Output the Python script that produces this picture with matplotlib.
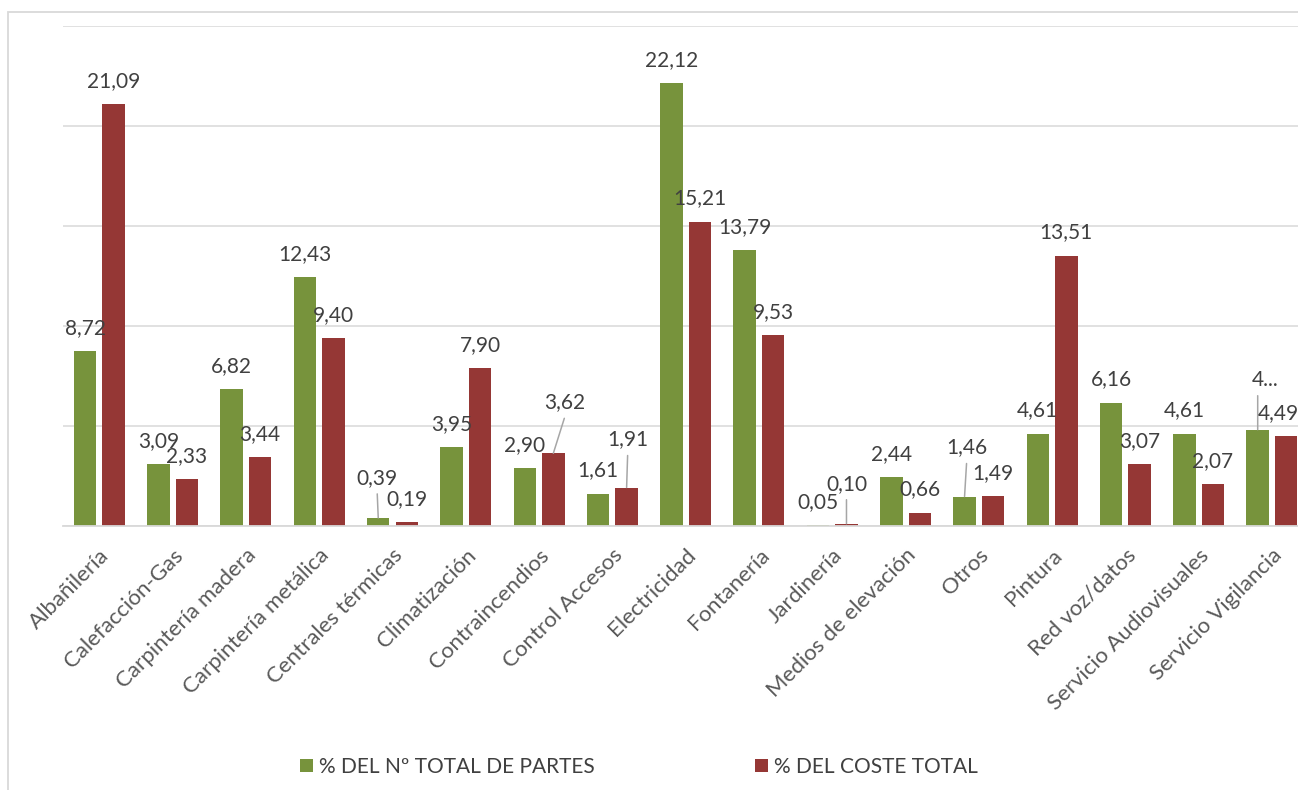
import numpy as np
import matplotlib.pyplot as plt
from matplotlib.patches import Rectangle

plt.rcParams['font.family'] = ['Lato', 'DejaVu Sans']

# --- data ---
categorias = ['Albañilería', 'Calefacción-Gas', 'Carpintería madera', 'Carpintería metálica',
              'Centrales térmicas', 'Climatización', 'Contraincendios', 'Control Accesos',
              'Electricidad', 'Fontanería', 'Jardinería', 'Medios de elevación', 'Otros',
              'Pintura', 'Red voz/datos', 'Servicio Audiovisuales', 'Servicio Vigilancia']
partes = [8.72, 3.09, 6.82, 12.43, 0.39, 3.95, 2.90, 1.61, 22.12, 13.79, 0.05, 2.44,
          1.46, 4.61, 6.16, 4.61, 4.80]
coste = [21.09, 2.33, 3.44, 9.40, 0.19, 7.90, 3.62, 1.91, 15.21, 9.53, 0.10, 0.66,
         1.49, 13.51, 3.07, 2.07, 4.49]
serie_partes = '% DEL Nº TOTAL DE PARTES'
serie_coste = '% DEL COSTE TOTAL'

def fmt(v):
    return f'{v:.2f}'.replace('.', ',')

etiq_partes = [fmt(v) for v in partes]
etiq_partes[16] = '4...'   # truncated in the original
etiq_coste = [fmt(v) for v in coste]

verde = '#77933C'
rojo = '#953735'
texto = '#404040'
gris = '#d9d9d9'

# label offsets in pixels (dx, dy above bar top); default is (0, 25)
desp_partes = {4: (-1, 42), 12: (2, 51), 16: (7, 52)}
desp_coste = {6: (11, 53), 7: (1, 50), 10: (0, 42), 16: (-8, 25)}
# leader lines: x offset of the line start
guia_partes = {4: -1, 12: 2, 16: 0}
guia_coste = {6: 11, 7: 1, 10: 0}

W, H = 1298, 790
fig = plt.figure(figsize=(W / 100, H / 100), dpi=100)
ax = fig.add_axes([62.7 / W, (H - 525.7) / H, (1308.6 - 62.7) / W, 500 / H])

x = np.arange(len(categorias))
ancho = 0.307
sep = 0.1945
b1 = ax.bar(x - sep, partes, ancho, color=verde, label=serie_partes, zorder=3)
b2 = ax.bar(x + sep, coste, ancho, color=rojo, label=serie_coste, zorder=3)

ax.set_xlim(-0.5, len(categorias) - 0.5)
ax.set_ylim(0, 25)
ax.set_yticks(np.arange(0, 26, 5))
ax.set_yticklabels([])
ax.tick_params(axis='y', length=0)
ax.grid(axis='y', color=gris, linewidth=1.1, zorder=0)
for s in ['top', 'right', 'left']:
    ax.spines[s].set_visible(False)
ax.spines['bottom'].set_color(gris)
ax.spines['bottom'].set_linewidth(1.3)
ax.spines['bottom'].set_zorder(4)

ax.set_xticks(x)
ax.set_xticklabels(categorias, rotation=45, ha='right', rotation_mode='anchor',
                   fontsize=16, color='#595959')
ax.tick_params(axis='x', length=0, pad=14)


def etiquetar(xs, vals, etiqs, desp, guias):
    for i, (xi, v, t) in enumerate(zip(xs, vals, etiqs)):
        dx, dy = desp.get(i, (0, 25))
        if i in guias:
            ax.annotate('', xy=(xi, v), xytext=(guias[i], dy - 18),
                        textcoords='offset pixels',
                        arrowprops=dict(arrowstyle='-', color='#a6a6a6', lw=1.1,
                                        shrinkA=0, shrinkB=0), zorder=4)
        ax.annotate(t, xy=(xi, v), xytext=(dx, dy), textcoords='offset pixels',
                    ha='center', va='center_baseline', fontsize=15, color=texto,
                    zorder=5, annotation_clip=False)


etiquetar(x - sep, partes, etiq_partes, desp_partes, guia_partes)
etiquetar(x + sep, coste, etiq_coste, desp_coste, guia_coste)

# legend, two entries placed like the original
for h, xpos in [(b1, 300), (b2, 755)]:
    fig.legend(handles=[h], loc='center left', bbox_to_anchor=(xpos / W, 1 - 767 / H),
               frameon=False, fontsize=15, handlelength=0.62, handleheight=0.62,
               handletextpad=0.3, borderpad=0, borderaxespad=0,
               labelcolor=texto)

# chart area border (cropped at right and bottom)
fig.patches.append(Rectangle((8 / W, -0.1), 1.2, 1.1 - 11.5 / H, transform=fig.transFigure,
                             fill=False, edgecolor=gris, linewidth=1.3))

plt.savefig('out.png', dpi=100)
